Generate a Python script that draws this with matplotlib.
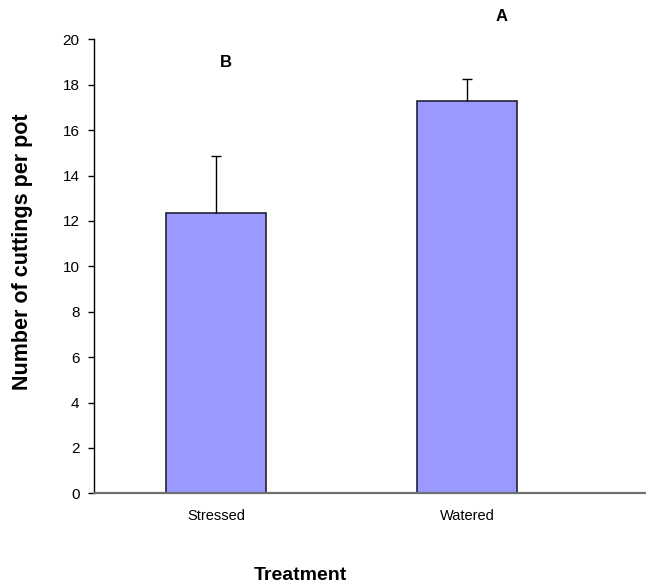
import matplotlib
matplotlib.use("Agg")
import matplotlib.pyplot as plt

plt.rcParams['font.family'] = ['Liberation Sans', 'DejaVu Sans']

categories = ["Stressed", "Watered"]
means = [12.35, 17.3]
errors = [2.52, 0.94]
letters = ["B", "A"]
letter_y = [18.96, 21.0]
y_ticks = [0, 2, 4, 6, 8, 10, 12, 14, 16, 18, 20]

fig = plt.figure(figsize=(6.46, 5.87), dpi=100)
ax = fig.add_axes([93.5/646, (587-493.3)/587, 1 - 93.5/646, (493.3-39.3)/587])

x = list(range(len(categories)))
ax.bar(x, means, width=0.40, color='#9999FF', edgecolor='#222233', linewidth=1.2, zorder=2)
ax.errorbar(x, means, yerr=[[0]*len(errors), errors], fmt='none', ecolor='black',
            elinewidth=1.0, capsize=0, zorder=3)
tops = [m + e for m, e in zip(means, errors)]
ax.plot(x, tops, linestyle='none', marker='_', markersize=7, markeredgewidth=1.0,
        color='black', zorder=3)

for xi, lab, ly in zip(x, letters, letter_y):
    ax.text(xi + (0.04 if lab == "B" else 0.136), ly, lab, ha='center', va='center',
            fontsize=12, fontweight='bold', clip_on=False)

ax.set_xlim(-0.49, 1.714)
ax.set_ylim(0, 20)
ax.set_yticks(y_ticks)
ax.set_yticklabels([str(t) for t in y_ticks], fontsize=11)
ax.set_xticks(x)
ax.set_xticklabels(categories, fontsize=10.5)
ax.tick_params(axis='x', length=0, pad=11)
ax.tick_params(axis='y', direction='out', length=4, width=1, pad=6)

for s in ['top', 'right']:
    ax.spines[s].set_visible(False)
ax.spines['left'].set_color('black')
ax.spines['left'].set_linewidth(1.0)
ax.spines['bottom'].set_color('#707070')
ax.spines['bottom'].set_linewidth(1.6)

fig.text(23/646, 1 - 252/587, "Number of cuttings per pot", rotation=90, ha='center', va='center',
         fontsize=15.5, fontweight='bold')
fig.text(300.7/646, 1 - 575/587, "Treatment", ha='center', va='center',
         fontsize=14, fontweight='bold')

fig.savefig("out.png", dpi=100)
